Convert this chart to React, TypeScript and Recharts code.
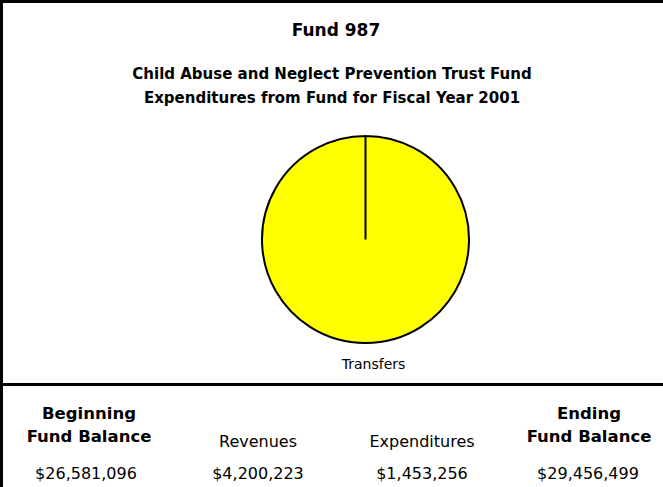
import React from 'react';
import { PieChart, Pie, Cell } from 'recharts';

const titleText = 'Fund 987';
const subtitleLines = [
  'Child Abuse and Neglect Prevention Trust Fund',
  'Expenditures from Fund for Fiscal Year 2001',
];
const sliceNames = ['Transfers'];
const sliceValues = [1453256];
const sliceColors = ['#FFFF00'];
const summaryLabels = [
  ['Beginning', 'Fund Balance'],
  ['Revenues'],
  ['Expenditures'],
  ['Ending', 'Fund Balance'],
];
const summaryValues = ['$26,581,096', '$4,200,223', '$1,453,256', '$29,456,499'];

const pieData = sliceNames.map((name, i) => ({ name, value: sliceValues[i] }));

const FONT = "'DejaVu Sans', Verdana, sans-serif";
const labelCenters = [89, 258, 422, 589];
const valueCenters = [86, 258, 422, 588];

const renderLabel = (props: any) => {
  const { cx, cy, outerRadius, name } = props;
  return (
    <text
      x={cx + 8}
      y={cy + outerRadius + 26}
      textAnchor="middle"
      fontFamily={FONT}
      fontSize={14}
      fill="#000"
    >
      {name}
    </text>
  );
};

function CenterText({
  cx,
  cy,
  text,
  size,
  bold,
}: {
  cx: number;
  cy: number;
  text: string;
  size: number;
  bold?: boolean;
}) {
  return (
    <div
      style={{
        position: 'absolute',
        left: cx - 200,
        top: cy - 10,
        width: 400,
        height: 20,
        lineHeight: '20px',
        textAlign: 'center',
        fontFamily: FONT,
        fontSize: size,
        fontWeight: bold ? 700 : 400,
        color: '#000',
        whiteSpace: 'nowrap',
      }}
    >
      {text}
    </div>
  );
}

export default function App() {
  return (
    <div
      style={{
        position: 'absolute',
        left: 0,
        top: 0,
        width: 663,
        height: 487,
        background: '#fff',
        overflow: 'hidden',
      }}
    >
      {/* borders */}
      <div style={{ position: 'absolute', left: 0, top: 0, width: 3, height: 487, background: '#000' }} />
      <div style={{ position: 'absolute', left: 0, top: 0, width: 663, height: 3, background: '#000' }} />
      <div style={{ position: 'absolute', left: 0, top: 383, width: 663, height: 3, background: '#000' }} />

      <div style={{ position: 'absolute', left: 0, top: 0 }}>
        <PieChart width={663} height={487} margin={{ top: 0, right: 0, bottom: 0, left: 0 }}>
          <Pie
            data={pieData}
            dataKey="value"
            nameKey="name"
            cx={365.5}
            cy={239.5}
            outerRadius={103.5}
            startAngle={90}
            endAngle={-270}
            stroke="#000"
            strokeWidth={2}
            label={renderLabel}
            labelLine={false}
            isAnimationActive={false}
          >
            {pieData.map((d, i) => (
              <Cell key={d.name} fill={sliceColors[i]} stroke="#000" strokeWidth={2} />
            ))}
          </Pie>
        </PieChart>
      </div>

      <CenterText cx={336} cy={30} text={titleText} size={17} bold />
      <CenterText cx={332} cy={74} text={subtitleLines[0]} size={15} bold />
      <CenterText cx={332} cy={98} text={subtitleLines[1]} size={15} bold />

      {summaryLabels.map((lines, i) =>
        lines.length === 2 ? (
          <React.Fragment key={i}>
            <CenterText cx={labelCenters[i]} cy={414} text={lines[0]} size={16.5} bold />
            <CenterText cx={labelCenters[i]} cy={437} text={lines[1]} size={16.5} bold />
          </React.Fragment>
        ) : (
          <CenterText key={i} cx={labelCenters[i]} cy={442} text={lines[0]} size={16} />
        )
      )}
      {summaryValues.map((v, i) => (
        <CenterText key={'v' + i} cx={valueCenters[i]} cy={474} text={v} size={16} />
      ))}
    </div>
  );
}
